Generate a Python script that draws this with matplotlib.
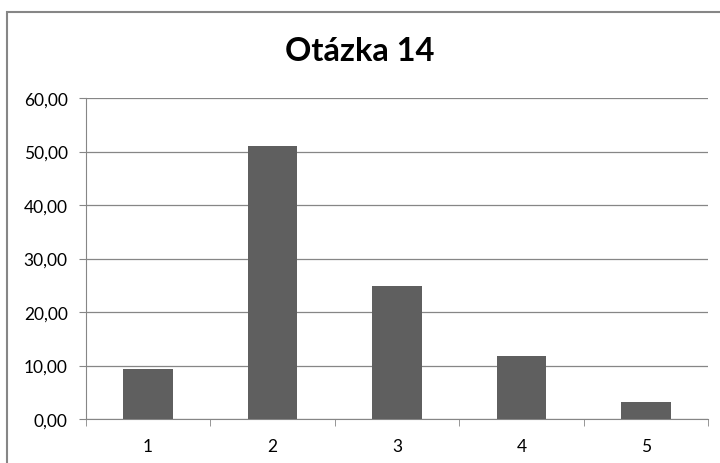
import matplotlib
matplotlib.use("Agg")
import matplotlib.pyplot as plt
from matplotlib.patches import Rectangle
from matplotlib.ticker import FuncFormatter

# values
categories = ["1", "2", "3", "4", "5"]
values = [9.4, 51.0, 24.9, 11.7, 3.2]
yticks = [0, 10, 20, 30, 40, 50, 60]

plt.rcParams["font.family"] = ["Lato", "DejaVu Sans"]

fig = plt.figure(figsize=(7.2, 4.64), dpi=100)
ax = fig.add_axes([0.119, 0.0948, 0.8648, 0.6918])

# outer chart border (partly cut off in the reference)
fig.patches.append(Rectangle((7 / 720, -0.1), 1.2, (464 - 13) / 464 + 0.1,
                             transform=fig.transFigure, fill=False,
                             edgecolor="#868686", linewidth=1.5))

x = range(len(categories))
ax.bar(x, values, width=0.4, color="#5f5f5f", zorder=3)

ax.set_xlim(-0.5, len(categories) - 0.5)
ax.set_ylim(0, 60)
ax.set_yticks(yticks)
ax.yaxis.set_major_formatter(FuncFormatter(lambda v, p: f"{v:.2f}".replace(".", ",")))
ax.set_xticks(list(x))
ax.set_xticklabels(categories)
ax.set_xticks([i - 0.5 for i in range(len(categories) + 1)], minor=True)

ax.grid(axis="y", color="#868686", linewidth=0.9, zorder=0)
for s in ["top", "right"]:
    ax.spines[s].set_visible(False)
ax.spines["left"].set_color("#868686")
ax.spines["bottom"].set_color("#868686")
ax.tick_params(axis="y", length=5, color="#868686", labelsize=12.5, pad=8)
ax.tick_params(axis="x", which="major", length=0, labelsize=12.5, pad=14)
ax.tick_params(axis="x", which="minor", length=5, color="#868686")

fig.text(0.5, 0.888, "Otázka 14", ha="center", va="center",
         fontsize=23.5, fontweight="bold")

fig.savefig("out.png", dpi=100)
